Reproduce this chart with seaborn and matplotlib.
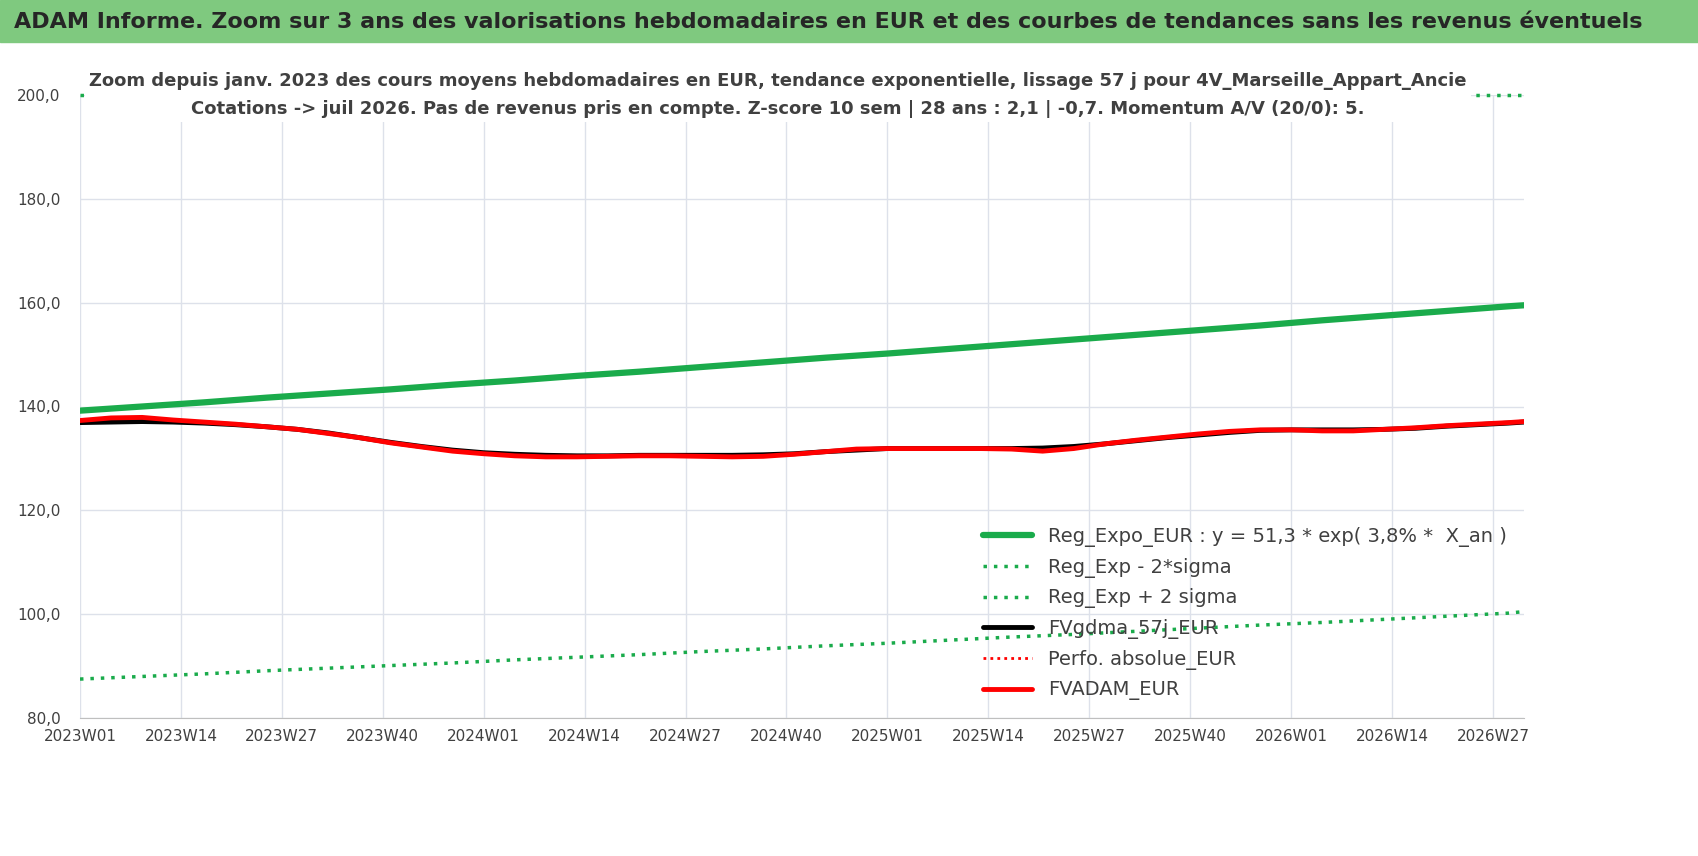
import matplotlib
matplotlib.use("Agg")
import matplotlib.pyplot as plt
import seaborn as sns
import pandas as pd

sns.set_style("white")
plt.rcParams['font.family'] = ['DejaVu Sans Condensed', 'DejaVu Sans']

# week index since 2023W01
weeks_8 = [0, 8, 16, 24, 32, 40, 48, 56, 64, 72, 80, 88, 96, 104, 112, 120,
           128, 136, 144, 152, 160, 168, 176, 184, 186]
reg_expo = [139.2, 140.0, 140.8, 141.7, 142.5, 143.3, 144.2, 145.0, 145.9, 146.7,
            147.6, 148.5, 149.4, 150.2, 151.1, 152.0, 152.9, 153.8, 154.7, 155.6,
            156.6, 157.5, 158.4, 159.3, 159.5]
reg_low = [87.5, 88.0, 88.5, 89.1, 89.6, 90.1, 90.6, 91.2, 91.7, 92.2, 92.8, 93.3,
           93.9, 94.4, 95.0, 95.6, 96.1, 96.7, 97.3, 97.9, 98.4, 99.0, 99.6, 100.2, 100.5]
reg_high = [200.0] * len(weeks_8)

weeks_4 = list(range(0, 185, 4)) + [186]
fvadam = [137.3, 137.8, 137.9, 137.4, 137.0, 136.6, 136.1, 135.6, 134.8, 134.0,
          133.0, 132.2, 131.4, 130.9, 130.5, 130.3, 130.3, 130.4, 130.5, 130.5,
          130.4, 130.3, 130.4, 130.8, 131.3, 131.8, 131.9, 131.9, 131.9, 131.9,
          131.8, 131.4, 131.9, 132.8, 133.5, 134.1, 134.7, 135.2, 135.5, 135.5,
          135.3, 135.3, 135.6, 135.9, 136.3, 136.6, 136.9, 137.1]
fvgdma = [136.9, 137.0, 137.1, 137.0, 136.8, 136.5, 136.1, 135.6, 134.9, 134.0,
          133.1, 132.3, 131.6, 131.1, 130.8, 130.6, 130.5, 130.5, 130.6, 130.6,
          130.6, 130.6, 130.7, 130.9, 131.3, 131.6, 131.9, 131.9, 131.9, 131.9,
          131.9, 132.0, 132.3, 132.8, 133.4, 134.0, 134.5, 135.0, 135.4, 135.5,
          135.5, 135.5, 135.6, 135.8, 136.2, 136.5, 136.8, 137.0]

tick_pos = list(range(0, 183, 13))
tick_labels = ['2023W01', '2023W14', '2023W27', '2023W40', '2024W01', '2024W14',
               '2024W27', '2024W40', '2025W01', '2025W14', '2025W27', '2025W40',
               '2026W01', '2026W14', '2026W27']

green = '#1aab4b'
fig = plt.figure(figsize=(16.98, 8.56), dpi=100)
fig.patches.append(plt.Rectangle((0, 1 - 42 / 856), 1, 42 / 856, transform=fig.transFigure,
                                 color='#7fc97f', zorder=0))
fig.text(0.008, 1 - 22 / 856, "ADAM Informe. Zoom sur 3 ans des valorisations hebdomadaires en EUR "
         "et des courbes de tendances sans les revenus éventuels",
         fontsize=16, fontweight='bold', va='center', ha='left')

ax = fig.add_axes([80 / 1698, 1 - 718 / 856, (1524 - 80) / 1698, (718 - 95) / 856])
d8 = pd.DataFrame({'w': weeks_8, 'expo': reg_expo, 'low': reg_low, 'high': reg_high})
d4 = pd.DataFrame({'w': weeks_4, 'adam': fvadam, 'gdma': fvgdma})

sns.lineplot(data=d8, x='w', y='expo', ax=ax, color=green, lw=4.5,
             label='Reg_Expo_EUR : y = 51,3 * exp( 3,8% *  X_an )')
sns.lineplot(data=d8, x='w', y='low', ax=ax, color=green, lw=2.5, ls=(0, (1, 2)),
             label='Reg_Exp - 2*sigma')
sns.lineplot(data=d8, x='w', y='high', ax=ax, color=green, lw=2.5, ls=(0, (1, 2)),
             label='Reg_Exp + 2 sigma', clip_on=False)
sns.lineplot(data=d4, x='w', y='gdma', ax=ax, color='black', lw=3.5, label='FVgdma_57j_EUR')
ax.plot([], [], color='red', lw=2, ls=(0, (1, 1.5)), label='Perfo. absolue_EUR')
sns.lineplot(data=d4, x='w', y='adam', ax=ax, color='#ff0000', lw=3.5, label='FVADAM_EUR')

ax.set_xlim(0, 186)
ax.set_ylim(80, 200)
ax.set_yticks(range(80, 201, 20))
ax.set_yticklabels([f"{v},0" for v in range(80, 201, 20)], fontsize=11, color='#404040')
ax.set_xticks(tick_pos)
ax.set_xticklabels(tick_labels, fontsize=11, color='#404040')
ax.tick_params(axis='x', pad=8)
ax.tick_params(axis='y', pad=14)
ax.set_xlabel('')
ax.set_ylabel('')
ax.grid(True, color='#dde1ea', lw=1)
for s in ['top', 'right', 'left']:
    ax.spines[s].set_visible(False)
ax.spines['bottom'].set_color('#bfbfbf')
ax.tick_params(length=0)

fig.text(0.458, 1 - 95 / 856, "Zoom depuis janv. 2023 des cours moyens hebdomadaires en EUR, tendance exponentielle, "
         "lissage 57 j pour 4V_Marseille_Appart_Ancie\nCotations -> juil 2026. Pas de revenus pris en compte. "
         "Z-score 10 sem | 28 ans : 2,1 | -0,7. Momentum A/V (20/0): 5.",
         ha='center', va='center', fontsize=13, fontweight='bold',
         color='#404040', linespacing=1.75, zorder=5,
         bbox=dict(facecolor='white', edgecolor='none', pad=3))

ax.legend(loc='lower right', bbox_to_anchor=(1.0, 0.0), frameon=False, fontsize=14,
          labelcolor='#404040', handlelength=2.5, labelspacing=0.55)

fig.savefig('out.png', dpi=100)
